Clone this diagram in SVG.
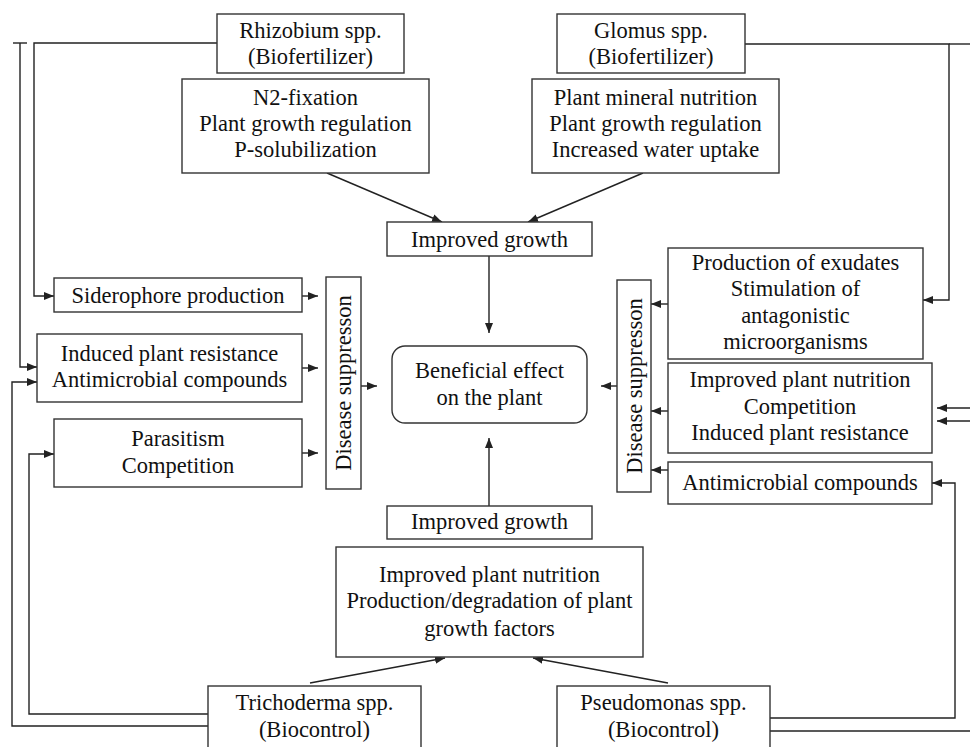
<svg xmlns="http://www.w3.org/2000/svg" width="970" height="747" viewBox="0 0 970 747">
<defs>
<marker id="ah" viewBox="0 0 10 8" refX="10" refY="4" markerWidth="10" markerHeight="8" markerUnits="userSpaceOnUse" orient="auto">
<path d="M0,0 L10,4 L0,8 Z" fill="#222"/>
</marker>
<style>
.b{fill:#fff;stroke:#333;stroke-width:1.4}
.t{font-family:"Liberation Serif","Times New Roman",serif;font-size:22.5px;fill:#111;text-anchor:middle}
.c{fill:none;stroke:#222;stroke-width:1.4}
.a{fill:none;stroke:#222;stroke-width:1.4;marker-end:url(#ah)}
</style>
</defs>
<rect width="970" height="747" fill="#fff"/>

<g id="connectors">
<!-- top arrows into improved growth -->
<line class="a" x1="327" y1="173" x2="442" y2="222"/>
<line class="a" x1="643" y1="173" x2="528" y2="222"/>
<line class="a" x1="489" y1="256" x2="489" y2="333"/>
<line class="a" x1="489" y1="506" x2="489" y2="438"/>
<!-- bottom arrows into bottom info box -->
<line class="a" x1="310" y1="683" x2="445" y2="658"/>
<line class="a" x1="668" y1="683" x2="533" y2="658"/>
<!-- left DS outputs -->
<line class="a" x1="302" y1="296" x2="318" y2="296"/>
<line class="a" x1="302" y1="368" x2="318" y2="368"/>
<line class="a" x1="302" y1="453" x2="318" y2="453"/>
<line class="a" x1="361" y1="386" x2="377" y2="386"/>
<!-- right DS inputs -->
<line class="a" x1="668" y1="304" x2="651" y2="304"/>
<line class="a" x1="668" y1="411" x2="651" y2="411"/>
<line class="a" x1="668" y1="470" x2="651" y2="470"/>
<line class="a" x1="617" y1="386" x2="601" y2="386"/>
<!-- Rhizobium to siderophore -->
<polyline class="a" points="217,43 34,43 34,296 54,296"/>
<!-- T-capped line to induced resistance -->
<line class="c" x1="13" y1="43" x2="27" y2="43"/>
<polyline class="a" points="20,43 20,367 37,367"/>
<!-- Trichoderma lines -->
<polyline class="a" points="208,714 29,714 29,454 54,454"/>
<polyline class="a" points="208,726 12,726 12,382 37,382"/>
<!-- Glomus to production -->
<polyline class="a" points="745,44 949,44 949,300 923,300"/>
<line class="c" x1="949" y1="44" x2="970" y2="44"/>
<!-- right incoming arrows -->
<line class="a" x1="970" y1="408" x2="937" y2="408"/>
<line class="a" x1="970" y1="421" x2="937" y2="421"/>
<!-- Pseudomonas lines -->
<polyline class="a" points="770,718 955,718 955,483 932,483"/>
<line class="c" x1="770" y1="731" x2="970" y2="731"/>
</g>

<g id="rhizobium">
<rect class="b" x="217" y="14" width="187" height="59"/>
<text class="t" x="310.5" y="38">Rhizobium spp.</text>
<text class="t" x="310.5" y="64">(Biofertilizer)</text>
</g>
<g id="rhizobium-effects">
<rect class="b" x="182" y="79" width="247" height="94"/>
<text class="t" x="305.5" y="105">N2-fixation</text>
<text class="t" x="305.5" y="131">Plant growth regulation</text>
<text class="t" x="305.5" y="157">P-solubilization</text>
</g>
<g id="glomus">
<rect class="b" x="557" y="14" width="188" height="59"/>
<text class="t" x="651" y="38">Glomus spp.</text>
<text class="t" x="651" y="64">(Biofertilizer)</text>
</g>
<g id="glomus-effects">
<rect class="b" x="532" y="79" width="247" height="94"/>
<text class="t" x="655.5" y="105">Plant mineral nutrition</text>
<text class="t" x="655.5" y="131">Plant growth regulation</text>
<text class="t" x="655.5" y="157">Increased water uptake</text>
</g>
<g id="improved-growth-top">
<rect class="b" x="387" y="222" width="205" height="34"/>
<text class="t" x="489.5" y="247">Improved growth</text>
</g>
<g id="beneficial">
<rect class="b" x="392" y="346" width="195" height="77" rx="13"/>
<text class="t" x="489.5" y="378">Beneficial effect</text>
<text class="t" x="489.5" y="405">on the plant</text>
</g>
<g id="siderophore">
<rect class="b" x="54" y="278" width="248" height="34"/>
<text class="t" x="178" y="303">Siderophore production</text>
</g>
<g id="induced-left">
<rect class="b" x="37" y="334" width="265" height="68"/>
<text class="t" x="169.5" y="361">Induced plant resistance</text>
<text class="t" x="169.5" y="387">Antimicrobial compounds</text>
</g>
<g id="parasitism">
<rect class="b" x="54" y="419" width="248" height="68"/>
<text class="t" x="178" y="446">Parasitism</text>
<text class="t" x="178" y="473">Competition</text>
</g>
<g id="ds-left">
<rect class="b" x="326" y="277" width="35" height="212"/>
<text class="t" transform="translate(351,383) rotate(-90)">Disease suppresson</text>
</g>
<g id="ds-right">
<rect class="b" x="617" y="280" width="34" height="212"/>
<text class="t" transform="translate(642,386) rotate(-90)">Disease suppresson</text>
</g>
<g id="exudates">
<rect class="b" x="668" y="248" width="255" height="111"/>
<text class="t" x="795.5" y="270">Production of exudates</text>
<text class="t" x="795.5" y="296">Stimulation of</text>
<text class="t" x="795.5" y="323">antagonistic</text>
<text class="t" x="795.5" y="349">microorganisms</text>
</g>
<g id="nutrition-right">
<rect class="b" x="668" y="363" width="264" height="90"/>
<text class="t" x="800" y="387">Improved plant nutrition</text>
<text class="t" x="800" y="414">Competition</text>
<text class="t" x="800" y="440">Induced plant resistance</text>
</g>
<g id="antimicrobial-right">
<rect class="b" x="668" y="462" width="264" height="42"/>
<text class="t" x="800" y="490">Antimicrobial compounds</text>
</g>
<g id="improved-growth-bottom">
<rect class="b" x="387" y="506" width="205" height="33"/>
<text class="t" x="489.5" y="529">Improved growth</text>
</g>
<g id="bottom-effects">
<rect class="b" x="336" y="547" width="307" height="110"/>
<text class="t" x="489.5" y="582">Improved plant nutrition</text>
<text class="t" x="489.5" y="608">Production/degradation of plant</text>
<text class="t" x="489.5" y="636">growth factors</text>
</g>
<g id="trichoderma">
<rect class="b" x="208" y="686" width="213" height="80"/>
<text class="t" x="314.5" y="710">Trichoderma spp.</text>
<text class="t" x="314.5" y="737">(Biocontrol)</text>
</g>
<g id="pseudomonas">
<rect class="b" x="557" y="686" width="213" height="80"/>
<text class="t" x="663.5" y="710">Pseudomonas spp.</text>
<text class="t" x="663.5" y="737">(Biocontrol)</text>
</g>
</svg>
